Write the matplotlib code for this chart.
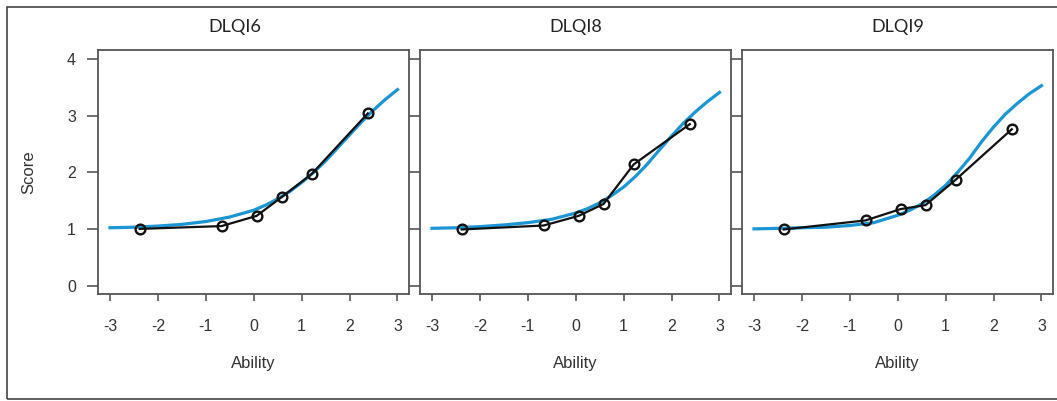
import matplotlib
matplotlib.use("Agg")
import matplotlib.pyplot as plt
from matplotlib.patches import Rectangle

# ability values of the observed (black) points, same for every item
ability = [-2.38, -0.67, 0.06, 0.58, 1.21, 2.38]

# observed mean scores
obs_dlqi6 = [1.00, 1.05, 1.23, 1.56, 1.97, 3.04]
obs_dlqi8 = [0.99, 1.06, 1.23, 1.44, 2.14, 2.85]
obs_dlqi9 = [0.99, 1.15, 1.35, 1.42, 1.87, 2.76]

# expected score curve
theta = [-3, -2.5, -2, -1.5, -1, -0.5, 0, 0.25, 0.5, 0.75, 1, 1.25,
         1.5, 1.75, 2, 2.25, 2.5, 2.75, 3]
exp_dlqi6 = [1.02, 1.03, 1.05, 1.08, 1.13, 1.21, 1.33, 1.42, 1.53, 1.66, 1.82,
             2.00, 2.20, 2.43, 2.66, 2.89, 3.10, 3.29, 3.46]
exp_dlqi8 = [1.01, 1.02, 1.04, 1.07, 1.11, 1.17, 1.28, 1.36, 1.46, 1.59, 1.74,
             1.93, 2.15, 2.40, 2.64, 2.87, 3.07, 3.25, 3.41]
exp_dlqi9 = [1.00, 1.01, 1.02, 1.03, 1.06, 1.11, 1.24, 1.33, 1.44, 1.59, 1.77,
             2.00, 2.25, 2.54, 2.80, 3.03, 3.22, 3.39, 3.53]

titles = ["DLQI6", "DLQI8", "DLQI9"]
observed = [obs_dlqi6, obs_dlqi8, obs_dlqi9]
expected = [exp_dlqi6, exp_dlqi8, exp_dlqi9]

plt.rcParams['font.family'] = ['Liberation Sans', 'DejaVu Sans']
plt.rcParams['axes.unicode_minus'] = False

W, H = 1057, 401
fig = plt.figure(figsize=(W / 100, H / 100), dpi=100)

# outer frame (right edge runs off the image)
fig.patches.append(Rectangle((7 / W, 1 - 399 / H), 1060 / W, 392 / H,
                             transform=fig.transFigure, fill=False,
                             edgecolor="#444444", linewidth=1.2))

lefts = [98, 420, 742]
frame_col = "#555555"
text_col = "#333333"

for i in range(3):
    ax = fig.add_axes([lefts[i] / W, 1 - 294 / H, 311 / W, 244 / H])
    ax.plot(theta, expected[i], color="#1b95d3", linewidth=2.3, zorder=2)
    ax.plot(ability, observed[i], color="#111111", linewidth=1.6,
            marker="o", markersize=7, markerfacecolor="none",
            markeredgecolor="#111111", markeredgewidth=1.7, zorder=3)
    ax.set_xlim(-3.25, 3.24)
    ax.set_ylim(-0.15, 4.16)
    ax.set_xticks([-3, -2, -1, 0, 1, 2, 3])
    ax.set_yticks([0, 1, 2, 3, 4])
    for sp in ax.spines.values():
        sp.set_color(frame_col)
        sp.set_linewidth(1.3)
    ax.tick_params(axis="x", direction="out", length=5, width=1.2,
                   color=frame_col, labelcolor=text_col, labelsize=11.5, pad=13)
    ax.tick_params(axis="y", direction="out", length=7.8, width=1.2,
                   color=frame_col, labelcolor=text_col, labelsize=11.5, pad=8)
    if i > 0:
        ax.set_yticklabels([])
    ax.set_xlabel("Ability", fontsize=12, color=text_col, labelpad=16)
    ax.set_title(titles[i], fontsize=13, color="#222222",
                 family=["Lato", "DejaVu Sans"], pad=13,
                 x=0.44 if i == 0 else 0.5)
    if i == 0:
        ax.set_ylabel("Score", fontsize=12, color=text_col, labelpad=22)

fig.savefig("out.png", dpi=100)
